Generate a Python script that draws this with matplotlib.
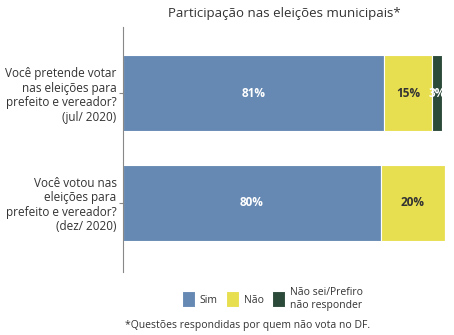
import numpy as np
import matplotlib.pyplot as plt

plt.rcParams['font.family'] = ['Open Sans', 'DejaVu Sans']

perguntas = ['Você pretende votar\nnas eleições para\nprefeito e vereador?\n(jul/ 2020)',
             'Você votou nas\neleições para\nprefeito e vereador?\n(dez/ 2020)']
sim = [81, 80]
nao = [15, 20]
nsnr = [3, 0]
series = ['Sim', 'Não', 'Não sei/Prefiro\nnão responder']
cores = ['#6689B3', '#E8DF50', '#2B4A3A']
cor_txt = ['white', '#333333', 'white']

fig = plt.figure(figsize=(4.54, 3.35), dpi=100)
ax = fig.add_axes([0.272, 0.188, 0.708, 0.731])

y = np.array([1, 0])
esq = np.zeros(2)
for vals, nome, c, tc in zip([sim, nao, nsnr], series, cores, cor_txt):
    vals = np.array(vals, dtype=float)
    bars = ax.barh(y, vals, left=esq, height=0.69, color=c, edgecolor='white',
                   linewidth=0.8, label=nome)
    for b, v in zip(bars, vals):
        if v > 0:
            ax.text(b.get_x() + b.get_width() / 2, b.get_y() + b.get_height() / 2,
                    f'{v:.0f}%', ha='center', va='center', color=tc,
                    fontsize=8.5, fontweight='bold')
    esq += vals

ax.set_xlim(0, 100)
ax.set_ylim(-0.63, 1.6)
ax.set_yticks(y)
ax.set_yticklabels(perguntas, fontsize=8.5, color='#333333', linespacing=1.15)
ax.set_xticks([])
for s in ['top', 'right', 'bottom']:
    ax.spines[s].set_visible(False)
ax.spines['left'].set_color('#888888')
ax.tick_params(axis='y', length=3, color='#888888', pad=2)
ax.set_title('Participação nas eleições municipais*', fontsize=9.5,
             color='#333333', pad=7)

leg = fig.legend(loc='lower center', bbox_to_anchor=(0.6, 0.045), ncol=3,
                 frameon=False, fontsize=7.5, handlelength=1.2, handleheight=2.0,
                 columnspacing=0.8, handletextpad=0.5, labelspacing=0)
for t in leg.get_texts():
    t.set_color('#333333')
fig.text(0.275, 0.02, '*Questões respondidas por quem não vota no DF.',
         fontsize=7.5, color='#333333')

fig.savefig('out.png', dpi=100)
